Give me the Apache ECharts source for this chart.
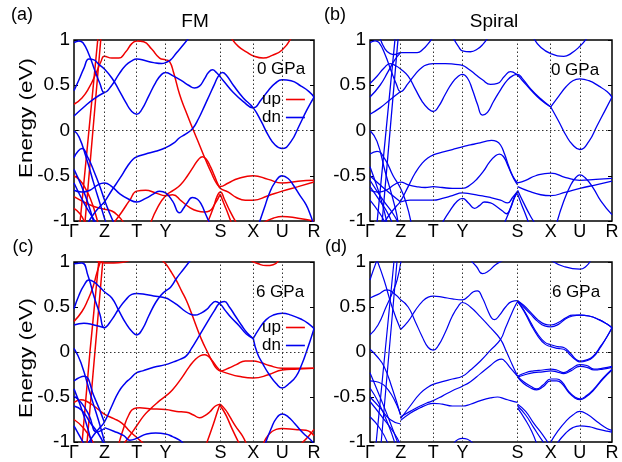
<!DOCTYPE html>
<html><head><meta charset="utf-8">
<script src="https://cdn.jsdelivr.net/npm/echarts@6/dist/echarts.min.js"></script>
<style>html,body{margin:0;padding:0;background:#fff}#c{width:622px;height:462px}</style>
</head><body><div id="c"></div>
<script>
// ---- axes ----
const kNames = ['Γ','Z','T','Y','S','X','U','R'];
const kTicks = [0, 30.5, 63, 92, 147, 180, 209, 241];
const eTicks = [-1, -0.5, 0, 0.5, 1];

// ---- panel (a) FM 0 GPa : spin up (red) ----
const aUp1 = [[0,0.29],[8,0.36],[15,0.47],[22,0.63],[27,0.76],[30.5,0.82],[38,0.8],[45,0.8],[52,0.87],[58,0.96],[63,0.99],[70,0.98],[78,0.9],[86,0.8],[92,0.78],[96,0.76],[100,0.64],[106,0.4],[112,0.22],[120,0.0],[126,-0.16],[132,-0.32],[138,-0.47],[143,-0.58],[147,-0.62],[155,-0.58],[165,-0.53],[180,-0.5],[195,-0.54],[209,-0.58],[225,-0.56],[241,-0.55]];
const aUp2 = [[77,-1.02],[84,-0.85],[92,-0.72],[100,-0.66],[107,-0.6],[114,-0.5],[120,-0.4],[125,-0.32],[129,-0.29],[133,-0.32],[137,-0.4],[141,-0.5],[144,-0.58],[147,-0.64],[155,-0.68],[163,-0.74],[172,-0.77],[180,-0.77],[195,-0.72],[209,-0.67],[225,-0.62],[241,-0.57]];
const aUp3 = [[40,-1.02],[48,-0.9],[56,-0.77],[63,-0.67],[72,-0.66],[82,-0.69],[92,-0.72],[99,-0.71],[108,-0.78],[116,-0.85],[124,-0.89],[131,-0.9],[136,-0.89],[141,-0.82],[147,-0.7]];
const aUp4 = [[0,-0.73],[10,-0.79],[20,-0.84],[30.5,-0.87],[38,-0.89],[44,-0.94],[50,-1.02]];
const aUp5 = [[0,-0.5],[6,-0.55],[12,-0.65],[17,-0.77],[21,-0.9],[24,-1.02]];
const aUp6 = [[0,-0.86],[6,-0.92],[11,-1.02]];
const aUp7 = [[6,-1.02],[15,0],[24,1.02]];
const aUp8 = [[11,-1.02],[19,0],[27,1.02]];
const aUp9 = [[158,1.02],[165,0.93],[173,0.87],[181,0.82],[190,0.8],[199,0.83],[209,0.89],[218,1.02]];
const aUp10 = [[190,-1.02],[200,-0.97],[209,-0.95],[225,-0.97],[241,-1.0]];
const aUp11 = [[134,-1.02],[140,-0.85],[144,-0.72],[147,-0.68],[151,-0.76],[157,-0.9],[163,-1.02]];
const aUp12 = [[147,-0.71],[151,-0.82],[155,-0.93],[158,-1.02]];
// ---- panel (a) spin down (blue) ----
const aDn1 = [[0,0.44],[5,0.56],[10,0.69],[15,0.79],[20,0.78],[25,0.73],[30.5,0.68],[38,0.58],[45,0.45],[52,0.31],[58,0.21],[63,0.18],[68,0.23],[75,0.38],[82,0.53],[88,0.62],[92,0.64],[100,0.6],[108,0.55],[115,0.5],[121,0.47],[126,0.49],[131,0.57],[135,0.64],[139,0.67],[143,0.64],[150,0.55],[160,0.42],[170,0.32],[180,0.25],[188,0.34],[195,0.44],[202,0.52],[209,0.56],[218,0.55],[228,0.49],[236,0.43],[241,0.37]];
const aDn2 = [[0,0.97],[5,0.99],[9,0.97],[15,0.84],[21,0.66],[26,0.52],[30.5,0.42],[38,0.5],[45,0.62],[52,0.72],[58,0.77],[63,0.79],[72,0.77],[80,0.75],[88,0.74],[92,0.75],[97,0.78],[103,0.86],[110,0.95],[115,1.02]];
const aDn3 = [[14,-1.02],[20,-0.92],[26,-0.84],[30.5,-0.79],[38,-0.66],[46,-0.53],[54,-0.39],[59,-0.32],[63,-0.29],[72,-0.26],[82,-0.23],[92,-0.19],[100,-0.14],[106,-0.08],[112,-0.04],[119,0.02],[125,0.13],[131,0.27],[136,0.39],[141,0.51],[145,0.6],[149,0.64],[153,0.61],[160,0.5],[170,0.36],[180,0.25],[188,0.1],[195,-0.05],[202,-0.16],[209,-0.2],[218,-0.12],[226,0.05],[234,0.23],[241,0.37]];
const aDn4 = [[0,-0.66],[8,-0.68],[16,-0.66],[24,-0.6],[30.5,-0.58],[38,-0.62],[46,-0.7],[55,-0.76],[63,-0.79],[72,-0.75],[80,-0.7],[86,-0.67],[92,-0.69],[99,-0.78],[106,-0.91],[110,-0.86],[113,-0.81],[119,-0.74],[124,-0.76],[128,-0.82],[132,-0.92],[136,-1.02]];
const aDn5 = [[186,-1.02],[191,-0.86],[196,-0.7],[202,-0.57],[209,-0.5],[215,-0.53],[220,-0.6],[227,-0.72],[233,-0.82],[238,-0.95],[240,-1.02]];
const aDn6 = [[0,0],[5,-0.07],[12,-0.29],[20,-0.59],[27,-0.84],[32,-1.02]];
const aDn7 = [[0,-0.3],[4,-0.23],[8,-0.2],[14,-0.3],[20,-0.45],[26,-0.62],[31,-0.78],[36,-0.92],[40,-1.02]];
const aDn8 = [[0,-0.43],[7,-0.6],[14,-0.8],[20,-1.02]];
const aDn9 = [[0,-0.58],[10,-0.8],[18,-0.95],[22,-1.02]];
const aDn10 = [[0,0.16],[10,0.26],[20,0.35],[30.5,0.42]];

// ---- panel (b) Spiral 0 GPa ----
const bB1 = [[10,1.02],[15,0.9],[20,0.85],[25,0.84],[30.5,0.86],[40,0.86],[47,0.86],[53,0.9],[58,0.96],[62,1.02]];
const bB2 = [[83,1.02],[88,0.93],[92,0.88],[100,0.87],[107,0.9],[113,0.96],[117,1.02]];
const bB3 = [[163,1.02],[170,0.92],[180,0.85],[193,0.82],[200,0.85],[209,0.93],[216,1.02]];
const bB4 = [[0,0.97],[5,0.99],[9,0.97],[15,0.84],[21,0.66],[26,0.52],[30.5,0.43],[38,0.52],[45,0.62],[52,0.7],[58,0.73],[63,0.74],[75,0.74],[85,0.73],[92,0.72],[98,0.68],[105,0.62],[112,0.56],[120,0.51],[127,0.52],[134,0.6],[140,0.65],[146,0.62],[152,0.55],[160,0.45],[170,0.34],[180,0.26]];
const bB5 = [[0,0.52],[7,0.6],[14,0.69],[20,0.74],[25,0.72],[30.5,0.68],[38,0.6],[45,0.46],[52,0.32],[58,0.24],[63,0.21],[68,0.26],[75,0.4],[82,0.53],[88,0.6],[92,0.62],[97,0.58],[102,0.45],[107,0.29],[112,0.17],[117,0.2],[123,0.32],[130,0.45],[137,0.56],[143,0.61],[147,0.62],[152,0.57],[160,0.46],[170,0.35],[180,0.26]];
const bB6 = [[180,0.26],[188,0.38],[195,0.48],[202,0.55],[209,0.57],[218,0.55],[228,0.49],[236,0.43],[241,0.37]];
const bB7 = [[180,0.26],[188,0.1],[195,-0.05],[202,-0.16],[209,-0.21],[218,-0.12],[226,0.05],[234,0.22],[241,0.37]];
const bB8 = [[0,0.37],[10,0.5],[18,0.65],[24,0.77],[30.5,0.86]];
const bB9 = [[0,0.18],[10,0.25],[20,0.34],[30.5,0.43]];
const bB10 = [[14,-1.02],[20,-0.92],[26,-0.84],[30.5,-0.78],[38,-0.62],[45,-0.47],[52,-0.36],[58,-0.3],[63,-0.27],[72,-0.24],[82,-0.21],[92,-0.18],[100,-0.16],[108,-0.14],[115,-0.12],[121,-0.11],[126,-0.12],[130,-0.16],[134,-0.26],[138,-0.39],[142,-0.5],[147,-0.58]];
const bB11 = [[0,-0.66],[8,-0.68],[16,-0.66],[24,-0.6],[30.5,-0.57],[38,-0.6],[46,-0.62],[55,-0.63],[63,-0.62],[72,-0.63],[82,-0.64],[92,-0.64],[100,-0.6],[107,-0.53],[113,-0.45],[119,-0.35],[125,-0.28],[129,-0.26],[133,-0.29],[137,-0.38],[141,-0.48],[144,-0.55],[147,-0.6]];
const bB12 = [[30.5,-0.79],[40,-0.77],[50,-0.77],[63,-0.77],[72,-0.75],[82,-0.72],[92,-0.69],[100,-0.7],[110,-0.72],[120,-0.74],[130,-0.77],[137,-0.8],[142,-0.74],[147,-0.67]];
const bB13 = [[72,-1.02],[80,-0.88],[87,-0.78],[92,-0.75],[98,-0.8],[104,-0.86],[109,-0.83],[114,-0.79],[120,-0.8],[126,-0.84],[132,-0.89],[136,-0.92],[140,-0.85],[144,-0.73],[147,-0.68]];
const bB14 = [[147,-0.58],[155,-0.55],[165,-0.5],[180,-0.47],[195,-0.52],[209,-0.55],[225,-0.54],[241,-0.53]];
const bB15 = [[147,-0.62],[158,-0.67],[170,-0.71],[180,-0.72],[195,-0.68],[209,-0.64],[225,-0.6],[241,-0.56]];
const bB16 = [[186,-1.02],[193,-0.78],[200,-0.6],[205,-0.52],[209,-0.49],[214,-0.52],[222,-0.63],[230,-0.78],[241,-0.93]];
const bB17 = [[147,-0.66],[153,-0.8],[160,-0.95],[164,-1.02]];
const bB18 = [[147,-0.7],[151,-0.82],[155,-0.93],[158,-1.02]];
const bB19 = [[134,-1.02],[140,-0.86],[144,-0.74],[147,-0.68]];
const bB20 = [[7,-1.02],[16,0],[25,1.02]];
const bB21 = [[12,-1.02],[20,0],[28,1.02]];
const bB22 = [[0,0],[7,-0.12],[15,-0.45],[25,-0.85],[28,-1.02]];
const bB23 = [[0,-0.26],[7,-0.23],[15,-0.32],[23,-0.5],[30.5,-0.64],[36,-0.8],[41,-1.02]];
const bB24 = [[0,-0.5],[15,-0.65],[30.5,-0.79]];
const bB25 = [[0,-0.55],[13,-0.77],[23,-0.92],[28,-1.02]];
const bB26 = [[0,-0.62],[10,-0.78],[17,-0.9],[22,-1.02]];
const bB27 = [[0,-0.4],[7,-0.62],[12,-0.8],[17,-1.02]];
const bB28 = [[0,-0.77],[10,-0.92],[15,-1.02]];

// ---- panel (c) FM 6 GPa : spin up (red) ----
const cUp1 = [[0,0.34],[8,0.45],[14,0.58],[19,0.72],[23,0.88],[27,1.02]];
const cUp1b = [[22,1.02],[30.5,0.99],[40,0.99],[50,1.0],[56,1.02]];
const cUp2 = [[88,1.02],[92,0.98],[97,0.9],[103,0.79],[108,0.68],[113,0.57],[118,0.43],[123,0.28],[128,0.14],[134,0.0],[139,-0.11],[143,-0.18],[147,-0.21],[155,-0.18],[163,-0.14],[172,-0.1],[180,-0.1],[188,-0.12],[196,-0.15],[209,-0.18],[225,-0.18],[241,-0.18]];
const cUp3 = [[147,-0.21],[155,-0.24],[165,-0.27],[180,-0.29],[196,-0.25],[209,-0.2],[225,-0.19],[241,-0.18]];
const cUp4 = [[50,-1.02],[56,-0.93],[63,-0.82],[70,-0.71],[76,-0.64],[84,-0.56],[92,-0.49],[99,-0.42],[108,-0.29],[116,-0.16],[122,-0.08],[127,-0.04],[131,-0.03],[135,-0.05],[139,-0.1],[143,-0.16],[147,-0.21]];
const cUp5 = [[45,-1.02],[50,-0.84],[55,-0.7],[60,-0.63],[66,-0.62],[76,-0.63],[92,-0.64],[103,-0.66],[113,-0.67],[120,-0.7],[126,-0.73],[131,-0.71],[136,-0.67],[142,-0.6],[147,-0.58]];
const cUp6 = [[147,-0.58],[152,-0.64],[156,-0.71],[162,-0.82],[169,-0.93],[173,-1.02]];
const cUp6b = [[147,-0.6],[150,-0.65],[153,-0.71],[159,-0.86],[166,-1.02]];
const cUp6c = [[133,-1.02],[140,-0.8],[145,-0.63],[147,-0.58]];
const cUp7 = [[0,-0.56],[7,-0.53],[13,-0.55],[20,-0.6],[30.5,-0.69],[40,-0.74],[48,-0.79],[56,-0.88],[63,-0.95],[70,-1.02]];
const cUp8 = [[190,-1.02],[196,-0.91],[203,-0.86],[209,-0.85],[222,-0.86],[233,-0.87],[241,-0.93]];
const cUp8b = [[228,-1.02],[236,-0.93],[241,-0.86]];
const cUp9 = [[177,1.02],[185,0.98],[193,0.96],[200,0.97],[206,1.02]];
const cUp10 = [[8,-1.02],[16,0],[25,1.02]];
const cUp11 = [[13,-1.02],[21,0],[29,1.02]];
const cUp12 = [[0,-0.75],[10,-0.85],[20,-1.02]];
// ---- panel (c) spin down (blue) ----
const cDn1 = [[0,0.48],[5,0.63],[10,0.74],[15,0.8],[20,0.78],[25,0.73],[30.5,0.67],[38,0.6],[45,0.46],[52,0.32],[58,0.23],[63,0.19],[69,0.26],[75,0.4],[82,0.55],[88,0.64],[92,0.68],[97,0.72],[103,0.82],[110,0.92],[117,1.02]];
const cDn2 = [[0,0.98],[8,0.99],[14,0.85],[20,0.62],[26,0.42],[30.5,0.27],[38,0.36],[45,0.48],[52,0.58],[58,0.64],[63,0.65],[72,0.64],[82,0.62],[92,0.6],[96,0.58],[104,0.52],[112,0.45],[117,0.42],[122,0.41],[127,0.43],[133,0.47],[138,0.53],[142,0.56],[147,0.53],[152,0.46],[158,0.38],[166,0.29],[173,0.2],[180,0.15]];
const cDn3 = [[14,-1.02],[20,-0.92],[26,-0.84],[30.5,-0.78],[38,-0.6],[45,-0.44],[52,-0.34],[56,-0.3],[63,-0.23],[69,-0.21],[80,-0.17],[92,-0.14],[100,-0.11],[107,-0.08],[113,-0.04],[118,0.04],[123,0.13],[130,0.26],[136,0.37],[141,0.46],[146,0.54],[151,0.56],[156,0.5],[162,0.4],[168,0.3],[174,0.21],[180,0.15]];
const cDn4 = [[180,0.15],[186,0.26],[193,0.36],[200,0.41],[209,0.43],[218,0.41],[229,0.36],[236,0.31],[241,0.26]];
const cDn5 = [[180,0.15],[184,-0.01],[190,-0.14],[196,-0.25],[203,-0.35],[209,-0.4],[216,-0.35],[223,-0.27],[229,-0.13],[233,-0.01],[237,0.12],[241,0.26]];
const cDn6 = [[30.5,-0.84],[40,-0.88],[50,-0.93],[56,-0.98],[63,-0.96],[73,-0.91],[82,-0.9],[92,-0.91],[99,-0.94],[106,-0.98],[110,-1.02]];
const cDn7 = [[192,-1.02],[198,-0.85],[203,-0.74],[209,-0.69],[215,-0.72],[222,-0.8],[230,-0.9],[237,-0.97],[241,-1.02]];
const cDn8 = [[0,0.04],[7,-0.12],[17,-0.49],[27,-0.85],[31,-1.02]];
const cDn9 = [[0,-0.32],[10,-0.27],[20,-0.49],[30.5,-0.78]];
const cDn10 = [[0,-0.41],[10,-0.71],[18,-1.02]];
const cDn11 = [[0,-0.49],[7,-0.56],[15,-0.7],[23,-0.89],[30.5,-0.85]];
const cDn12 = [[0,-0.82],[10,-1.02]];
const cDn13 = [[0,0.3],[10,0.32],[20,0.3],[30.5,0.27]];
const cDn14 = [[0,-0.6],[8,-0.65],[16,-0.78],[24,-0.9],[30,-1.02]];

// ---- panel (d) Spiral 6 GPa ----
const dD1 = [[30.5,0.25],[38,0.34],[45,0.46],[52,0.56],[58,0.61],[63,0.62],[72,0.61],[82,0.59],[92,0.58],[98,0.62],[103,0.67],[107,0.68],[112,0.6],[117,0.47],[121,0.38],[124,0.36],[129,0.41],[135,0.5],[141,0.56],[147,0.57]];
const dD2 = [[30.5,0.58],[38,0.5],[45,0.34],[52,0.17],[58,0.05],[63,0.02],[68,0.07],[75,0.22],[82,0.4],[88,0.51],[92,0.55],[100,0.5],[110,0.39],[120,0.27],[130,0.14],[136,0.0],[142,-0.15],[147,-0.27]];
const dD3 = [[30.5,-0.74],[40,-0.6],[50,-0.46],[58,-0.39],[63,-0.36],[72,-0.33],[82,-0.3],[92,-0.27],[100,-0.2],[110,-0.1],[120,0.02],[130,0.14],[135,0.27],[140,0.4],[144,0.5],[147,0.56]];
const dD4 = [[30.5,-0.72],[40,-0.66],[50,-0.6],[58,-0.56],[63,-0.54],[72,-0.49],[82,-0.43],[92,-0.38],[100,-0.33],[110,-0.24],[120,-0.15],[127,-0.09],[131,-0.08],[135,-0.11],[140,-0.18],[147,-0.27]];
const dD5 = [[30.5,-0.76],[40,-0.68],[50,-0.62],[58,-0.58],[63,-0.57],[72,-0.58],[82,-0.6],[92,-0.6],[100,-0.58],[110,-0.54],[120,-0.51],[127,-0.5],[134,-0.52],[140,-0.54],[147,-0.56]];
const dD6 = [[147,0.57],[153,0.52],[160,0.44],[167,0.36],[174,0.31],[180,0.3],[188,0.33],[195,0.38],[202,0.41],[209,0.41],[218,0.4],[228,0.36],[236,0.31],[241,0.27]];
const dD6b = [[147,0.57],[153,0.5],[160,0.42],[167,0.34],[174,0.29],[180,0.28],[188,0.31],[195,0.37],[202,0.4],[209,0.41],[218,0.4],[228,0.36],[236,0.31],[241,0.27]];
const dD7 = [[147,0.56],[153,0.47],[160,0.33],[167,0.2],[174,0.11],[180,0.08],[187,0.06],[193,0.05],[200,-0.02],[205,-0.08],[209,-0.1],[215,-0.09],[222,-0.05],[230,0.07],[236,0.17],[241,0.27]];
const dD7b = [[147,0.56],[153,0.46],[160,0.31],[167,0.18],[174,0.09],[180,0.06],[187,0.04],[193,0.03],[200,-0.04],[205,-0.09],[209,-0.11],[215,-0.1],[222,-0.06],[230,0.06],[236,0.17],[241,0.27]];
const dD8 = [[147,-0.27],[155,-0.23],[163,-0.21],[172,-0.2],[180,-0.19],[186,-0.2],[193,-0.23],[200,-0.19],[209,-0.14],[216,-0.15],[223,-0.19],[232,-0.18],[241,-0.16]];
const dD8b = [[147,-0.28],[155,-0.25],[163,-0.23],[172,-0.22],[180,-0.21],[186,-0.22],[193,-0.24],[200,-0.21],[209,-0.16],[216,-0.17],[223,-0.2],[232,-0.19],[241,-0.17]];
const dD9 = [[147,-0.27],[153,-0.33],[160,-0.38],[166,-0.41],[172,-0.37],[180,-0.3],[186,-0.3],[191,-0.33],[198,-0.44],[204,-0.5],[209,-0.52],[215,-0.49],[223,-0.41],[232,-0.29],[241,-0.19]];
const dD9b = [[147,-0.28],[153,-0.35],[160,-0.4],[166,-0.42],[172,-0.39],[180,-0.32],[186,-0.32],[191,-0.35],[198,-0.45],[204,-0.51],[209,-0.53],[215,-0.5],[223,-0.42],[232,-0.3],[241,-0.2]];
const dD10 = [[147,-0.58],[155,-0.66],[163,-0.79],[172,-0.92],[178,-1.02]];
const dD10b = [[147,-0.6],[155,-0.7],[163,-0.84],[170,-0.96],[174,-1.02]];
const dD10c = [[147,-0.62],[154,-0.74],[161,-0.88],[166,-1.02]];
const dD11 = [[179,-1.02],[187,-0.88],[195,-0.77],[202,-0.7],[209,-0.66],[216,-0.69],[228,-0.79],[236,-0.85],[241,-0.87]];
const dD12 = [[186,-1.02],[195,-0.9],[202,-0.84],[209,-0.82],[218,-0.83],[228,-0.86],[236,-0.88],[241,-0.89]];
const dD13 = [[100,1.02],[106,0.95],[112,0.87],[118,0.9],[125,0.97],[133,1.02]];
const dD14 = [[180,1.02],[193,0.95],[209,0.92],[215,0.95],[220,1.02]];
const dD15 = [[83,-1.02],[88,-0.97],[92,-0.96],[97,-0.97],[103,-1.02]];
const dD16 = [[0,0.8],[3,0.9],[7,1.02]];
const dD17 = [[0,0.6],[8,0.64],[17,0.69],[24,0.65],[30.5,0.58]];
const dD18 = [[7,1.02],[14,0.8],[22,0.5],[30.5,0.25]];
const dD19 = [[0,0.19],[8,0.3],[16,0.5],[22,0.65],[27,0.8],[31,1.02]];
const dD20 = [[0,0.03],[7,-0.05],[14,-0.16],[22,-0.4],[30.5,-0.7]];
const dD21 = [[0,-0.32],[15,-0.38],[30.5,-0.7]];
const dD22 = [[6,-1.02],[15,0],[24,1.02]];
const dD23 = [[11,-1.02],[19,0],[27,1.02]];
const dD24 = [[0,-0.23],[10,-0.5],[20,-0.78],[28,-1.02]];
const dD25 = [[0,-0.5],[10,-0.62],[20,-0.75],[30.5,-0.8]];
const dD26 = [[0,-0.55],[12,-0.72],[24,-0.9],[30,-1.02]];
const dD27 = [[0,-0.72],[10,-0.85],[18,-1.02]];
const dD28 = [[0,-0.4],[8,-0.55],[18,-0.8],[25,-1.02]];

// ---- grouping ----
const upA = [aUp1,aUp2,aUp3,aUp4,aUp5,aUp6,aUp7,aUp8,aUp9,aUp10,aUp11,aUp12];
const dnA = [aDn1,aDn2,aDn3,aDn4,aDn5,aDn6,aDn7,aDn8,aDn9,aDn10];
const spB = [bB1,bB2,bB3,bB4,bB5,bB6,bB7,bB8,bB9,bB10,bB11,bB12,bB13,bB14,bB15,bB16,bB17,bB18,bB19,bB20,bB21,bB22,bB23,bB24,bB25,bB26,bB27,bB28];
const upC = [cUp1,cUp1b,cUp2,cUp3,cUp4,cUp5,cUp6,cUp6b,cUp6c,cUp7,cUp8,cUp8b,cUp9,cUp10,cUp11,cUp12];
const dnC = [cDn1,cDn2,cDn3,cDn4,cDn5,cDn6,cDn7,cDn8,cDn9,cDn10,cDn11,cDn12,cDn13,cDn14];
const spD = [dD1,dD2,dD3,dD4,dD5,dD6,dD6b,dD7,dD7b,dD8,dD8b,dD9,dD9b,dD10,dD10b,dD10c,dD11,dD12,dD13,dD14,dD15,dD16,dD17,dD18,dD19,dD20,dD21,dD22,dD23,dD24,dD25,dD26,dD27,dD28];

const RED = '#f00000', BLUE = '#0000f0';
const FONT = '"Liberation Sans", Arial, Helvetica, sans-serif';

const grids = [
  {left:74, top:40, width:240, height:181},
  {left:370, top:40, width:242, height:181},
  {left:74, top:262, width:240, height:181},
  {left:370, top:262, width:242, height:181}
].map(g => Object.assign({show:true, borderColor:'#000', borderWidth:1.5, backgroundColor:'transparent'}, g));

const xAxes = grids.map((g,i) => ({
  type:'value', gridIndex:i, min:0, max:241,
  axisLine:{show:false}, axisTick:{show:false}, splitLine:{show:false},
  axisLabel:{
    customValues:kTicks, margin:2, color:'#000', fontSize:18, fontFamily:FONT, hideOverlap:false,
    formatter:function(v){ let best=0; for(let j=0;j<kTicks.length;j++){ if(Math.abs(kTicks[j]-v)<Math.abs(kTicks[best]-v)) best=j; } return kNames[best]; }
  }
}));
const yAxes = [];
grids.forEach((g,i) => {
  yAxes.push({type:'value', gridIndex:i, min:eTicks[0], max:eTicks[eTicks.length-1], interval:0.5, position:'left',
    axisLine:{show:false}, splitLine:{show:false},
    axisTick:{show:true, inside:true, length:4, lineStyle:{color:'#000'}},
    axisLabel:{color:'#000', fontSize:19, fontFamily:FONT, margin:4}});
  yAxes.push({type:'value', gridIndex:i, min:eTicks[0], max:eTicks[eTicks.length-1], interval:0.5, position:'right',
    axisLine:{show:false}, splitLine:{show:false},
    axisTick:{show:true, inside:true, length:4, lineStyle:{color:'#000'}},
    axisLabel:{show:false}});
});

const series = [];
function addBands(list, gi, color, name, width) {
  list.forEach(d => series.push({
    type:'line', name:name, xAxisIndex:gi, yAxisIndex:gi*2, data:d,
    symbol:'none', showSymbol:false, smooth:0.5,
    lineStyle:{color:color, width:width}, itemStyle:{color:color},
    clip:true, silent:true, z:3
  }));
}
// dotted guide lines (high-symmetry points and Fermi level)
grids.forEach((g,i) => {
  series.push({
    type:'line', name:'guide'+i, xAxisIndex:i, yAxisIndex:i*2, data:[[0,-5]],
    symbol:'none', silent:true, z:1, lineStyle:{width:0},
    markLine:{silent:true, symbol:['none','none'], label:{show:false}, animation:false,
      lineStyle:{type:[1.5,2.5], color:'#333', width:1},
      emphasis:{disabled:true},
      data: kTicks.slice(1,-1).map(k => ({xAxis:k})).concat([{yAxis:0}])}
  });
});
addBands(upA, 0, RED, 'up', 1.5);
addBands(dnA, 0, BLUE, 'dn', 1.5);
addBands(spB, 1, BLUE, 'spiral', 1.3);
addBands(upC, 2, RED, 'up', 1.5);
addBands(dnC, 2, BLUE, 'dn', 1.5);
addBands(spD, 3, BLUE, 'spiral', 1.2);

function txt(x, y, s, size, extra) {
  return Object.assign({type:'text', x:x, y:y, silent:true, z:10,
    style:{text:s, fill:'#000', fontSize:size, fontFamily:FONT, align:'center', verticalAlign:'middle'}}, extra||{});
}

const legendBase = {
  data:['up','dn'], orient:'vertical', align:'right', left:262, itemWidth:19, itemHeight:1.6,
  icon:'rect', itemGap:1, padding:0, selectedMode:false, textStyle:{fontSize:17, color:'#000', fontFamily:FONT}
};

const option = {
  animation:false,
  backgroundColor:'#fff',
  grid:grids, xAxis:xAxes, yAxis:yAxes, series:series,
  legend:[Object.assign({top:91}, legendBase), Object.assign({top:319}, legendBase)],
  graphic:{elements:[
    txt(22, 15, '(a)', 18), txt(335, 15, '(b)', 18), txt(23, 247, '(c)', 18), txt(336, 247, '(d)', 18),
    txt(195, 22, 'FM', 19), txt(494, 22, 'Spiral', 19),
    txt(27, 118, 'Energy (eV)', 18, {rotation:Math.PI/2, scaleX:1.25}),
    txt(27, 358, 'Energy (eV)', 18, {rotation:Math.PI/2, scaleX:1.25}),
    txt(281, 69, '0 GPa', 17), txt(575, 70, '0 GPa', 17),
    txt(280, 292, '6 GPa', 17), txt(576, 292, '6 GPa', 17)
  ]}
};
const chart = echarts.init(document.getElementById('c'), null, {renderer:'canvas'});
chart.setOption(option);
</script></body></html>
